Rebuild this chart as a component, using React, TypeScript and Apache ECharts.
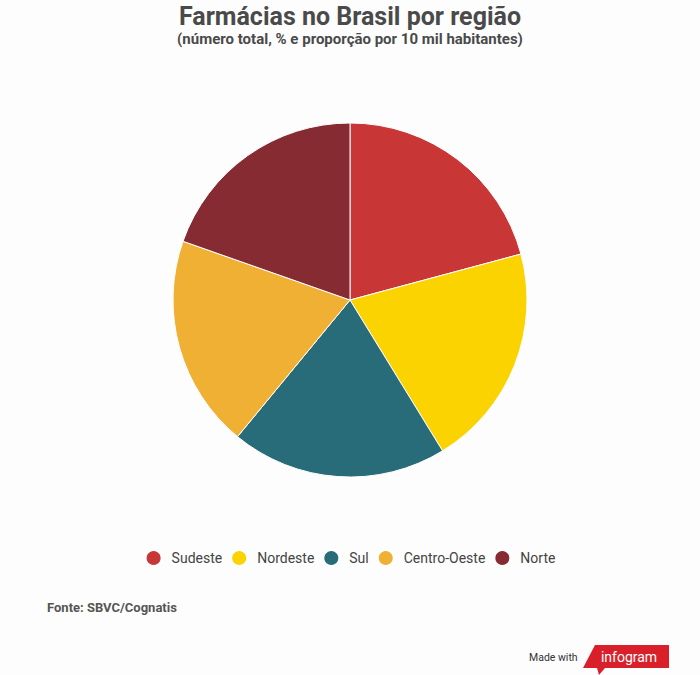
import React, { useEffect, useRef } from "react";
import * as echarts from "echarts";

const regions = ["Sudeste", "Nordeste", "Sul", "Centro-Oeste", "Norte"];
const shares = [20.8, 20.4, 19.7, 19.4, 19.6];
const colors = ["#c93636", "#fad300", "#276c78", "#efb033", "#862b32"];

const titleText = "Farmácias no Brasil por região";
const subtitleText = "(número total, % e proporção por 10 mil habitantes)";
const sourceText = "Fonte: SBVC/Cognatis";

export default function App() {
  const ref = useRef<HTMLDivElement>(null);
  useEffect(() => {
    document.body.style.margin = "0";
    const chart = echarts.init(ref.current!, null, { renderer: "svg" });
    chart.setOption({
      animation: false,
      backgroundColor: "#fdfdfd",
      title: [
        {
          text: titleText,
          left: "center",
          top: 4,
          padding: 0,
          textStyle: { fontFamily: "Roboto", fontSize: 25, lineHeight: 25, fontWeight: "bold", color: "#4a4a4a" },
        },
        {
          text: subtitleText,
          left: "center",
          top: 31,
          padding: 0,
          textStyle: { fontFamily: "Roboto", fontSize: 15, lineHeight: 15, fontWeight: "bold", color: "#4a4a4a" },
        },
      ],
      legend: {
        top: 544,
        left: "center",
        icon: "circle",
        itemWidth: 16,
        itemHeight: 16,
        itemGap: 8,
        textStyle: { fontFamily: "Roboto", fontSize: 14, color: "#444", padding: [0, 0, 0, 5] },
        data: regions,
      },
      series: [
        {
          type: "pie",
          center: [350, 300],
          radius: 177,
          startAngle: 90,
          clockwise: true,
          label: { show: false },
          labelLine: { show: false },
          itemStyle: { borderColor: "#ffffff", borderWidth: 1 },
          emphasis: { disabled: true },
          data: regions.map((r, i) => ({ name: r, value: shares[i], itemStyle: { color: colors[i] } })),
        },
      ],
      graphic: [
        {
          type: "text",
          left: 47,
          top: 601,
          style: { text: sourceText, fontFamily: "Roboto", fontSize: 13, fontWeight: "bold", fill: "#555" },
        },
        {
          type: "text",
          left: 529,
          top: 652,
          style: { text: "Made with", fontFamily: "Roboto", fontSize: 10.5, fill: "#333" },
        },
        {
          type: "polygon",
          shape: {
            points: [
              [595, 645],
              [669, 645],
              [669, 668],
              [605, 668],
              [599, 675],
              [597, 668],
              [583, 668],
            ],
          },
          style: { fill: "#d9202a" },
        },
        {
          type: "text",
          x: 629,
          y: 657,
          style: {
            text: "infogram",
            fontFamily: "Roboto",
            fontSize: 14,
            fill: "#ffffff",
            align: "center",
            verticalAlign: "middle",
          },
        },
      ],
    });
    return () => chart.dispose();
  }, []);
  return <div ref={ref} style={{ width: 700, height: 675 }} />;
}
